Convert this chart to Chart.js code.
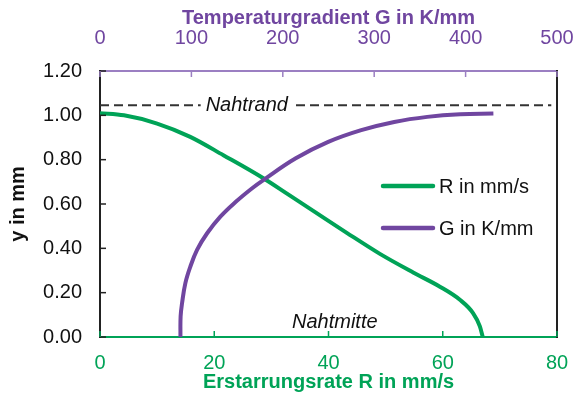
<!DOCTYPE html>
<html>
<head>
<meta charset="utf-8">
<script src="https://cdn.jsdelivr.net/npm/chart.js@4/dist/chart.umd.min.js"></script>
<style>
  html, body { margin: 0; padding: 0; background: #fff; }
  #wrap { width: 576px; height: 398px; }
</style>
</head>
<body>
<div id="wrap"><canvas id="c" width="576" height="398"></canvas></div>
<script>
// ---- data ----
const rRate = [0, 4.2, 10, 15.8, 21.6, 28.6, 33, 37.4, 43.2, 49, 54.9, 59.5, 63, 65.3, 66.5, 67];
const rY    = [1.01, 1.0, 0.963, 0.903, 0.82, 0.716, 0.642, 0.568, 0.47, 0.375, 0.29, 0.227, 0.168, 0.108, 0.048, 0];
const gGrad = [88, 88.2, 89.8, 93.4, 98.9, 106.2, 117.2, 131.7, 148.6, 166.1, 178.7, 214.2, 249.7, 285.8, 321.9, 358, 394, 430.4];
const gY    = [0, 0.093, 0.153, 0.243, 0.318, 0.393, 0.468, 0.543, 0.61, 0.67, 0.708, 0.806, 0.88, 0.933, 0.97, 0.993, 1.005, 1.008];
const nahtrandY = 1.045;
const nahtrandR = [0, 79];
const seriesLabels = ['R in mm/s', 'G in K/mm'];
const xTitle = 'Erstarrungsrate R in mm/s';
const x2Title = 'Temperaturgradient G in K/mm';
const yTitle = 'y in mm';
const noteTop = 'Nahtrand';
const noteBottom = 'Nahtmitte';

const GREEN = '#00a357';
const PURPLE = '#7046a0';
const PURPLE_LIGHT = '#9b7fc2';
const FONT = "'Liberation Sans', Arial, sans-serif";

Chart.defaults.font.family = FONT;

const toPts = (xs, ys) => xs.map((x, i) => ({x: x, y: ys[i]}));

const tickMarks = {
  id: 'tickMarks',
  afterDraw(chart) {
    const ctx = chart.ctx;
    const len = 6;
    const defs = [
      {id: 'y', color: '#222', dir: 'left'},
      {id: 'x', color: GREEN, dir: 'bottom'},
      {id: 'x2', color: PURPLE_LIGHT, dir: 'top'}
    ];
    ctx.save();
    ctx.lineWidth = 1.5;
    defs.forEach(d => {
      const s = chart.scales[d.id];
      ctx.strokeStyle = d.color;
      s.ticks.forEach(t => {
        const p = s.getPixelForValue(t.value);
        ctx.beginPath();
        if (d.dir === 'left') { ctx.moveTo(s.right, p); ctx.lineTo(s.right + len, p); }
        else if (d.dir === 'bottom') { ctx.moveTo(p, s.top); ctx.lineTo(p, s.top - len); }
        else { ctx.moveTo(p, s.bottom); ctx.lineTo(p, s.bottom + len); }
        ctx.stroke();
      });
    });
    ctx.restore();
  }
};

const notes = {
  id: 'notes',
  afterDatasetsDraw(chart) {
    const ctx = chart.ctx;
    const xs = chart.scales.x, ys = chart.scales.y;
    ctx.save();
    ctx.font = 'italic 20px ' + FONT;
    ctx.textAlign = 'center';
    ctx.textBaseline = 'middle';
    const px1 = xs.getPixelForValue(25.7), py1 = ys.getPixelForValue(nahtrandY);
    const w1 = ctx.measureText(noteTop).width;
    ctx.fillStyle = '#fff';
    ctx.fillRect(px1 - w1 / 2 - 5, py1 - 6, w1 + 10, 12);
    ctx.fillStyle = '#111';
    ctx.fillText(noteTop, px1, py1);
    const px2 = xs.getPixelForValue(41.1), py2 = ys.getPixelForValue(0.064);
    ctx.fillText(noteBottom, px2, py2);

    // legend
    ctx.font = '20px ' + FONT;
    ctx.textAlign = 'left';
    const items = [{c: GREEN, t: seriesLabels[0], y: 186}, {c: PURPLE, t: seriesLabels[1], y: 228}];
    items.forEach(it => {
      ctx.strokeStyle = it.c;
      ctx.lineWidth = 4.5;
      ctx.lineCap = 'round';
      ctx.beginPath();
      ctx.moveTo(383, it.y); ctx.lineTo(433, it.y);
      ctx.stroke();
      ctx.fillStyle = '#111';
      ctx.fillText(it.t, 439, it.y + 1);
    });
    ctx.restore();
  }
};

const noPadH = s => { s.paddingLeft = 0; s.paddingRight = 0; };
const noPadV = s => { s.paddingTop = 0; s.paddingBottom = 0; };

new Chart(document.getElementById('c'), {
  type: 'scatter',
  data: {
    datasets: [
      {
        label: 'Nahtrand',
        data: toPts(nahtrandR, [nahtrandY, nahtrandY]),
        showLine: true, borderColor: '#333', borderWidth: 2, borderDash: [9, 5],
        pointRadius: 0, xAxisID: 'x', yAxisID: 'y'
      },
      {
        label: seriesLabels[1],
        data: toPts(gGrad, gY),
        showLine: true, borderColor: PURPLE, borderWidth: 4, tension: 0.4,
        pointRadius: 0, xAxisID: 'x2', yAxisID: 'y'
      },
      {
        label: seriesLabels[0],
        data: toPts(rRate, rY),
        showLine: true, borderColor: GREEN, borderWidth: 4, cubicInterpolationMode: 'monotone',
        pointRadius: 0, xAxisID: 'x', yAxisID: 'y'
      }
    ]
  },
  options: {
    responsive: false,
    animation: false,
    layout: { padding: 0 },
    plugins: { legend: { display: false }, tooltip: { enabled: false } },
    scales: {
      x: {
        type: 'linear', position: 'bottom', min: 0, max: 80,
        ticks: { stepSize: 20, color: GREEN, font: { size: 20 }, padding: 14 },
        grid: { drawOnChartArea: false, drawTicks: false },
        border: { color: GREEN, width: 2 },
        title: { display: true, text: xTitle, color: GREEN, font: { size: 20, weight: 'bold' }, padding: { top: 0, bottom: 4 } },
        afterFit(s) { s.height = 61; noPadH(s); }
      },
      x2: {
        type: 'linear', position: 'top', min: 0, max: 500,
        ticks: { stepSize: 100, color: PURPLE, font: { size: 20 }, padding: 21 },
        grid: { drawOnChartArea: false, drawTicks: false },
        border: { color: PURPLE_LIGHT, width: 2 },
        title: { display: true, text: x2Title, color: PURPLE, font: { size: 20, weight: 'bold' }, padding: { top: 6, bottom: 0 } },
        afterFit(s) { s.height = 71; noPadH(s); }
      },
      y: {
        type: 'linear', position: 'left', min: 0, max: 1.2,
        ticks: { stepSize: 0.2, color: '#111', font: { size: 20 }, padding: 18,
                 callback: v => Number(v).toFixed(2) },
        grid: { drawOnChartArea: false, drawTicks: false },
        border: { color: '#222', width: 2 },
        title: { display: true, text: yTitle, color: '#111', font: { size: 20, weight: 'bold' }, padding: { top: 6, bottom: 0 } },
        afterFit(s) { s.width = 100; noPadV(s); }
      },
      y2: {
        type: 'linear', position: 'right', min: 0, max: 1.2,
        ticks: { display: false },
        grid: { drawOnChartArea: false, drawTicks: false },
        border: { color: '#222', width: 2 },
        afterFit(s) { s.width = 19; noPadV(s); }
      }
    }
  },
  plugins: [tickMarks, notes]
});
</script>
</body>
</html>
